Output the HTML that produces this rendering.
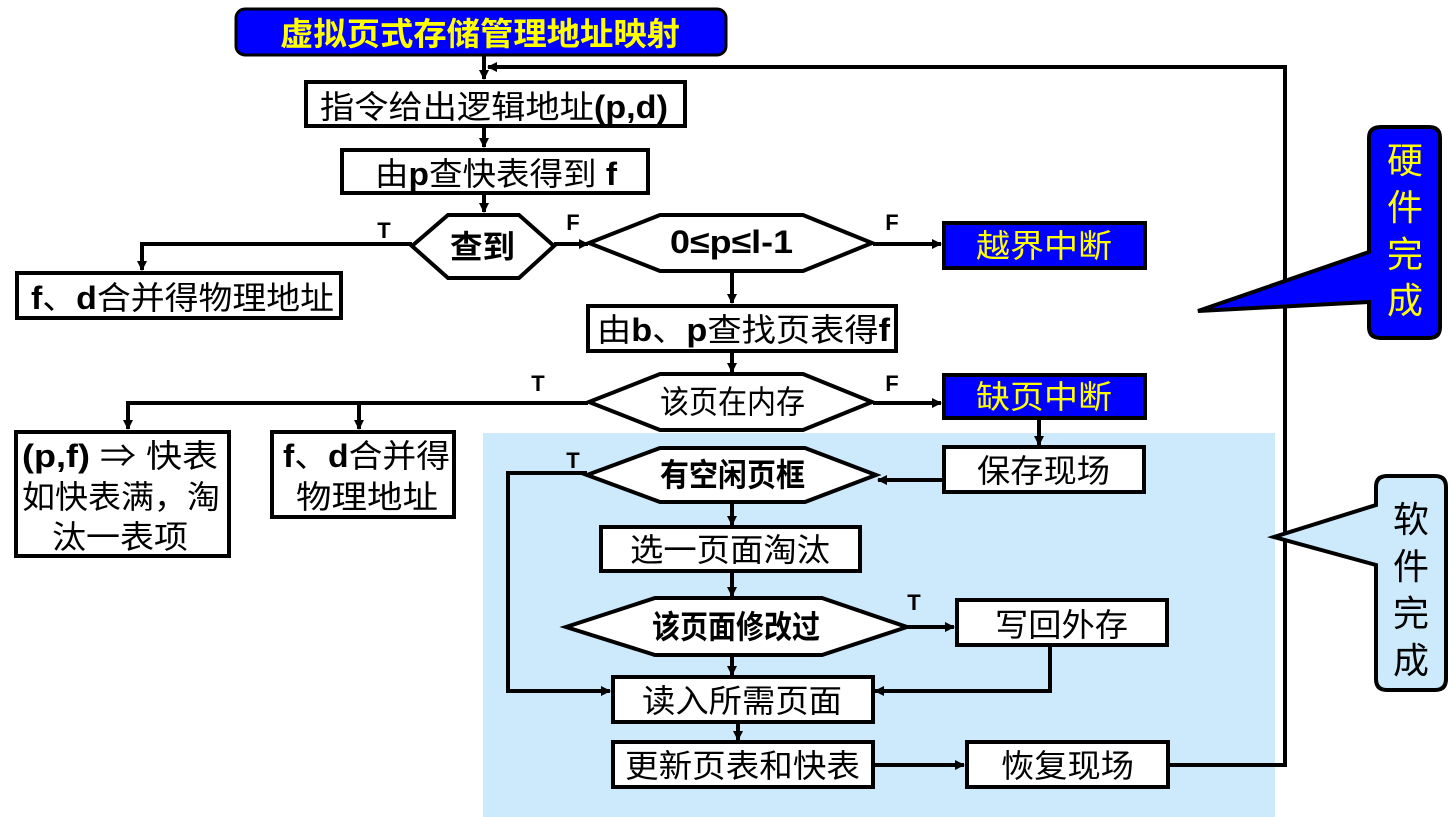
<!DOCTYPE html>
<html><head><meta charset="utf-8"><style>
html,body{margin:0;padding:0;background:#fff;width:1454px;height:817px;overflow:hidden}
svg{display:block}
text{font-family:"Liberation Sans","Noto Sans CJK SC",sans-serif}
.t{font-size:32px;fill:#000}
.b{font-weight:bold}
.y{fill:#ffff00}
</style></head><body>
<svg width="1454" height="817" viewBox="0 0 1454 817" xmlns="http://www.w3.org/2000/svg">
<defs>
<marker id="a" markerWidth="10" markerHeight="10" refX="9" refY="5" orient="auto" markerUnits="userSpaceOnUse">
<path d="M0,0 L10,5 L0,10 Z" fill="#000"/></marker>
</defs>
<rect x="483" y="433" width="792" height="384" fill="#cdeafc"/>
<g stroke="#000" stroke-width="4" fill="none">
<polyline points="1168,765 1285,765 1285,67 488,67" marker-end="url(#a)"/>
<line x1="484" y1="55" x2="484" y2="79" marker-end="url(#a)"/>
<line x1="484" y1="126" x2="484" y2="147" marker-end="url(#a)"/>
<line x1="484" y1="193" x2="484" y2="212" marker-end="url(#a)"/>
<polyline points="412,244 142,244 142,270" marker-end="url(#a)"/>
<line x1="554" y1="244" x2="588" y2="244" marker-end="url(#a)"/>
<line x1="873" y1="244" x2="941" y2="244" marker-end="url(#a)"/>
<line x1="732" y1="271" x2="732" y2="303" marker-end="url(#a)"/>
<line x1="732" y1="351" x2="732" y2="372" marker-end="url(#a)"/>
<polyline points="588,403 128,403 128,429" marker-end="url(#a)"/>
<line x1="359" y1="403" x2="359" y2="429" marker-end="url(#a)"/>
<line x1="873" y1="403" x2="941" y2="403" marker-end="url(#a)"/>
<line x1="1039" y1="418" x2="1039" y2="445" marker-end="url(#a)"/>
<line x1="943" y1="480" x2="878" y2="480" marker-end="url(#a)"/>
<polyline points="587,473 508,473 508,691 610,691" marker-end="url(#a)"/>
<line x1="732" y1="503" x2="732" y2="525" marker-end="url(#a)"/>
<line x1="732" y1="571" x2="732" y2="596" marker-end="url(#a)"/>
<line x1="907" y1="627" x2="954" y2="627" marker-end="url(#a)"/>
<polyline points="1050,645 1050,691 875,691" marker-end="url(#a)"/>
<line x1="732" y1="655" x2="732" y2="675" marker-end="url(#a)"/>
<line x1="738" y1="722" x2="738" y2="740" marker-end="url(#a)"/>
<line x1="873" y1="765" x2="964" y2="765" marker-end="url(#a)"/>
</g>
<g stroke="#000" stroke-width="4">
<rect x="236" y="9" width="490" height="46" rx="9" fill="#0000ff" stroke-width="3"/>
<rect x="306" y="82" width="379" height="44" fill="#fff"/>
<rect x="342" y="150" width="306" height="43" fill="#fff"/>
<polygon points="412,246 448,215 519,215 554,246 519,278 448,278" fill="#fff"/>
<polygon points="589,243 660,215 803,215 872,243 803,271 660,271" fill="#fff"/>
<rect x="944" y="223" width="201" height="45" fill="#0000ff"/>
<rect x="17" y="273" width="324" height="45" fill="#fff"/>
<rect x="588" y="306" width="308" height="45" fill="#fff"/>
<polygon points="589,402 660,374 803,374 872,402 803,430 660,430" fill="#fff"/>
<rect x="944" y="375" width="201" height="43" fill="#0000ff"/>
<rect x="16" y="432" width="213" height="124" fill="#fff"/>
<rect x="272" y="432" width="182" height="85" fill="#fff"/>
<rect x="944" y="447" width="200" height="45" fill="#fff"/>
<polygon points="587,475 660,448 805,448 876,475 805,502 660,502" fill="#fff"/>
<rect x="601" y="527" width="259" height="44" fill="#fff"/>
<polygon points="566,627 655,598 822,598 907,627 822,655 655,655" fill="#fff"/>
<rect x="957" y="600" width="210" height="45" fill="#fff"/>
<rect x="613" y="677" width="260" height="45" fill="#fff"/>
<rect x="613" y="742" width="260" height="45" fill="#fff"/>
<rect x="967" y="742" width="201" height="45" fill="#fff"/>
<path d="M1381,127 L1429,127 Q1440,127 1440,138 L1440,327 Q1440,338 1429,338 L1381,338 Q1369,338 1369,327 L1369,302 L1198,311 L1369,252 L1369,138 Q1369,127 1381,127 Z" fill="#0000ff"/>
<path d="M1387,476 L1435,476 Q1446,476 1446,487 L1446,679 Q1446,690 1435,690 L1387,690 Q1376,690 1376,679 L1376,565 L1274,537 L1376,505 L1376,487 Q1376,476 1387,476 Z" fill="#cdeafc"/>
</g>
<g lengthAdjust="spacingAndGlyphs">
<text x="280" y="45" class="t b y" font-size="32" textLength="400" lengthAdjust="spacingAndGlyphs">虚拟页式存储管理地址映射</text>
<text x="320" y="118" class="t" textLength="348" lengthAdjust="spacingAndGlyphs">指令给出逻辑地址<tspan class="b">(p,d)</tspan></text>
<text x="375" y="185" class="t" textLength="242" lengthAdjust="spacingAndGlyphs">由<tspan class="b">p</tspan>查快表得到 <tspan class="b">f</tspan></text>
<text x="450" y="258" class="t b" font-size="30" textLength="65" lengthAdjust="spacingAndGlyphs">查到</text>
<text x="670" y="253" class="t b" font-size="26" textLength="123" lengthAdjust="spacingAndGlyphs">0≤p≤l-1</text>
<text x="976" y="257" class="t y" textLength="136" lengthAdjust="spacingAndGlyphs">越界中断</text>
<text x="31" y="309" class="t" textLength="303" lengthAdjust="spacingAndGlyphs"><tspan class="b">f</tspan>、<tspan class="b">d</tspan>合并得物理地址</text>
<text x="597" y="341" class="t" textLength="293" lengthAdjust="spacingAndGlyphs">由<tspan class="b">b</tspan>、<tspan class="b">p</tspan>查找页表得<tspan class="b">f</tspan></text>
<text x="660" y="413" class="t" font-size="28" textLength="145" lengthAdjust="spacingAndGlyphs">该页在内存</text>
<text x="976" y="408" class="t y" textLength="136" lengthAdjust="spacingAndGlyphs">缺页中断</text>
<text x="22" y="467" class="t" textLength="196" lengthAdjust="spacingAndGlyphs"><tspan class="b">(p,f)</tspan> ⇒ 快表</text>
<text x="22" y="508" class="t" textLength="198" lengthAdjust="spacingAndGlyphs">如快表满，淘</text>
<text x="52" y="548" class="t" textLength="136" lengthAdjust="spacingAndGlyphs">汰一表项</text>
<text x="283" y="467" class="t" textLength="167" lengthAdjust="spacingAndGlyphs"><tspan class="b">f</tspan>、<tspan class="b">d</tspan>合并得</text>
<text x="296" y="508" class="t" textLength="142" lengthAdjust="spacingAndGlyphs">物理地址</text>
<text x="977" y="482" class="t" textLength="133" lengthAdjust="spacingAndGlyphs">保存现场</text>
<text x="660" y="486" class="t b" font-size="27" textLength="145" lengthAdjust="spacingAndGlyphs">有空闲页框</text>
<text x="630" y="561" class="t" textLength="200" lengthAdjust="spacingAndGlyphs">选一页面淘汰</text>
<text x="652" y="638" class="t b" font-size="27" textLength="168" lengthAdjust="spacingAndGlyphs">该页面修改过</text>
<text x="995" y="636" class="t" textLength="133" lengthAdjust="spacingAndGlyphs">写回外存</text>
<text x="642" y="712" class="t" textLength="200" lengthAdjust="spacingAndGlyphs">读入所需页面</text>
<text x="625" y="777" class="t" textLength="235" lengthAdjust="spacingAndGlyphs">更新页表和快表</text>
<text x="1001" y="777" class="t" textLength="133" lengthAdjust="spacingAndGlyphs">恢复现场</text>
</g>
<g text-anchor="middle">
<g class="b" font-size="22">
<text x="384" y="238">T</text>
<text x="573" y="230">F</text>
<text x="892" y="230">F</text>
<text x="538" y="391">T</text>
<text x="892" y="391">F</text>
<text x="573" y="468">T</text>
<text x="914" y="610">T</text>
</g>
<g font-size="36">
<text x="1405" y="173" class="y">硬</text>
<text x="1405" y="220" class="y">件</text>
<text x="1405" y="267" class="y">完</text>
<text x="1405" y="313" class="y">成</text>
</g>
<g font-size="36">
<text x="1411" y="532">软</text>
<text x="1411" y="579">件</text>
<text x="1411" y="626">完</text>
<text x="1411" y="673">成</text>
</g>
</g>
</svg>
</body></html>
